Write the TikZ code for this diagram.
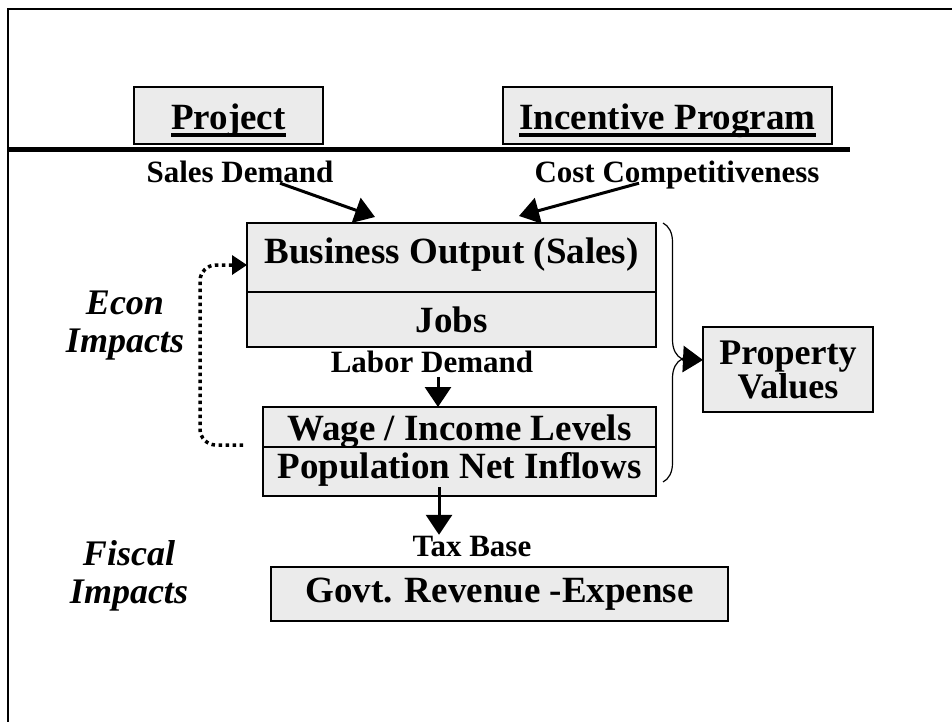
\documentclass[tikz,border=0pt]{standalone}
\usepackage{fontspec}
\setmainfont{Liberation Serif}
\usetikzlibrary{arrows.meta, positioning, decorations.pathreplacing}
\definecolor{boxgray}{RGB}{235,235,235}
\newcommand{\boxfont}{\bfseries\fontsize{37}{40}\selectfont}
\newcommand{\propfont}{\bfseries\fontsize{36}{34}\selectfont}
\newcommand{\labelfont}{\bfseries\fontsize{31}{34}\selectfont}
\newcommand{\sidefont}{\bfseries\itshape\fontsize{36}{38}\selectfont}
\newcommand{\undertext}[1]{\setbox0\hbox{#1}\rlap{\rule[-7pt]{\wd0}{4pt}}\box0}
\tikzstyle{block} = [rectangle, draw=black, fill=boxgray, line width=2pt, outer sep=0pt, inner sep=0pt, font=\boxfont]
\tikzstyle{flowlabel} = [font=\labelfont, inner sep=2pt, text height=21pt, text depth=7pt]
\tikzstyle{side} = [font=\sidefont, align=center]
\tikzstyle{arrow} = [line width=3pt, -{Triangle[length=20pt,width=26pt]}]
\tikzstyle{feedback} = [line width=3.5pt, dash pattern=on 3.5pt off 3.5pt, rounded corners=16pt, -{Triangle[length=15pt,width=19pt]}]
\tikzstyle{bracket} = [line width=1.2pt, decorate, decoration={brace, amplitude=19pt, aspect=0.525}]

\begin{document}
\begin{tikzpicture}[x=1pt, y=-1pt]
\useasboundingbox (0,0) rectangle (952,722);

% frame and divider
\draw [line width=2pt] (8,722) -- (8,9) -- (952,9);
\draw [line width=5pt] (8,150) -- (850,150);

% drivers
\node (project) [block, minimum width=189pt, minimum height=57pt, text height=29pt, text depth=0pt] at (228.5,115.5) {\undertext{Project}};
\node (incentive) [block, minimum width=329pt, minimum height=57pt, text height=29pt, text depth=0pt] at (667.5,115.5) {\undertext{Incentive Program}};
\node (sales) [flowlabel] at (240,175.5) {Sales Demand};
\node (cost) [flowlabel] at (677,175.5) {Cost Competitiveness};

% econ impacts
\node (output) [block, minimum width=409pt, minimum height=69pt, text height=11pt, text depth=0pt] at (451.5,257.5) {Business Output (Sales)};
\node (jobs) [block, below=0pt of output, minimum width=409pt, minimum height=55pt, text height=25pt, text depth=0pt] {Jobs};
\node (labor) [flowlabel] at (432,365.5) {Labor Demand};
\node (wage) [block, minimum width=393pt, minimum height=40pt, text height=26pt, text depth=0pt] at (459.5,427) {Wage / Income Levels};
\node (pop) [block, below=0pt of wage, minimum width=393pt, minimum height=49pt, text height=13pt, text depth=0pt] {Population Net Inflows};
\node (property) [block, minimum width=170pt, minimum height=85pt, font=\propfont, align=center] at (788,369.5) {Property\\Values};

% fiscal impacts
\node (tax) [flowlabel] at (472,549) {Tax Base};
\node (govt) [block, minimum width=457pt, minimum height=54pt, text height=16pt, text depth=0pt] at (499.5,594) {Govt. Revenue -Expense};

\node (econ) [side] at (125,326) {Econ\\Impacts};
\node (fiscal) [side] at (129,576) {Fiscal\\Impacts};

\draw [arrow] ([xshift=40pt,yshift=8.5pt]sales.south) -- ([xshift=-76.5pt,yshift=6pt]output.north);
\draw [arrow] ([xshift=-38pt,yshift=8.5pt]cost.south) -- ([xshift=67.5pt,yshift=7pt]output.north);
\draw [arrow] ([xshift=6pt,yshift=4.5pt]labor.south) -- ([xshift=-21.5pt]wage.north);
\draw [arrow] ([xshift=-20.5pt,yshift=9pt]pop.south) -- ([xshift=-33pt,yshift=-2pt]tax.north);
\draw [feedback] ([xshift=-20pt,yshift=2pt]wage.south west) -- ++(-43,0) |- ([yshift=-7.5pt]output.west);

% brace into property values
\draw [bracket] (663,223) -- (663,482);
\coordinate (bracetip) at (682,359);
\draw [arrow] (bracetip) -- ([yshift=9.5pt]property.west);

\end{tikzpicture}
\end{document}
